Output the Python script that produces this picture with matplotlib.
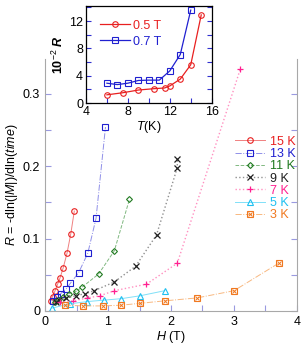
import numpy as np
import matplotlib
matplotlib.use('Agg')
import matplotlib.pyplot as plt
from matplotlib.ticker import MultipleLocator, FuncFormatter
from matplotlib.legend_handler import HandlerTuple

plt.rcParams['font.family'] = ['Liberation Sans', 'DejaVu Sans']
plt.rcParams['mathtext.fontset'] = 'custom'
plt.rcParams['mathtext.it'] = 'Liberation Sans:italic'
plt.rcParams['mathtext.rm'] = 'Liberation Sans'
plt.rcParams['mathtext.bf'] = 'Liberation Sans:italic:bold'

#### main panel data: R vs H (T) ####
H_15 = [0.09, 0.12, 0.16, 0.20, 0.24, 0.29, 0.35, 0.41, 0.465]
R_15 = [0.014, 0.020, 0.028, 0.037, 0.046, 0.060, 0.080, 0.107, 0.138]

H_13 = [0.12, 0.19, 0.25, 0.34, 0.40, 0.535, 0.68, 0.81, 0.96]
R_13 = [0.014, 0.019, 0.024, 0.031, 0.038, 0.053, 0.080, 0.128, 0.254]

H_11 = [0.16, 0.21, 0.28, 0.38, 0.49, 0.59, 0.85, 1.10, 1.34]
R_11 = [0.013, 0.015, 0.019, 0.024, 0.027, 0.033, 0.051, 0.083, 0.154]

H_9 = [0.17, 0.22, 0.34, 0.49, 0.64, 0.78, 1.10, 1.44, 1.77, 2.10, 2.10]
R_9 = [0.013, 0.015, 0.0175, 0.021, 0.024, 0.028, 0.040, 0.062, 0.105, 0.198, 0.210]

H_7 = [0.24, 0.45, 0.67, 0.87, 1.10, 1.61, 2.10, 3.10]
R_7 = [0.012, 0.014, 0.018, 0.021, 0.028, 0.037, 0.066, 0.334]

H_5 = [0.11, 0.40, 0.67, 0.94, 1.21, 1.51, 1.90]
R_5 = [0.004, 0.010, 0.013, 0.015, 0.017, 0.021, 0.028]

H_3 = [0.31, 0.61, 0.92, 1.21, 1.51, 1.90, 2.41, 3.00, 3.71]
R_3 = [0.008, 0.007, 0.007, 0.008, 0.0106, 0.014, 0.018, 0.028, 0.066]

#### inset data: 10^-2 R vs T (K) ####
T_05 = [6, 7.5, 9, 10.5, 11.5, 12, 13, 14, 15]
R_05 = [1.2, 1.5, 1.9, 2.1, 2.2, 2.5, 3.5, 5.6, 12.9]
T_07 = [6, 7, 8, 9, 10, 11, 12, 13, 14]
R_07 = [2.9, 2.7, 2.9, 3.3, 3.35, 3.35, 4.7, 7.1, 13.6]

fig = plt.figure(figsize=(3.07, 3.45), dpi=100)

ax = fig.add_axes([0.1466, 0.0986, 0.8208, 0.7304])

tick_col = '#9a9ae0'
spine_col = '#a8a8a8'

l15, = ax.plot(H_15, R_15, '-', color='#f08080', lw=0.7, marker='o', ms=4,
               mfc='none', mec='#e82020', mew=0.8)
l13, = ax.plot(H_13, R_13, '-.', color='#9090e8', lw=0.7, marker='s', ms=4.5,
               mfc='none', mec='#2020d0', mew=0.8)
l11, = ax.plot(H_11, R_11, '--', color='#80b880', lw=0.7, marker='D', ms=3,
               mfc='none', mec='#207a20', mew=0.8)
l9, = ax.plot(H_9, R_9, ':', color='#909090', lw=1.0, marker='x', ms=4,
              mec='#202020', mew=0.9)
l7, = ax.plot(H_7, R_7, ':', color='#ff90c0', lw=1.0, marker='+', ms=5,
              mec='#ff2090', mew=0.9)
l5, = ax.plot(H_5, R_5, '-', color='#80e0f8', lw=0.7, marker='^', ms=4,
              mfc='none', mec='#20c0f0', mew=0.8)
l3, = ax.plot(H_3, R_3, '-.', color='#f8b880', lw=0.7, marker='s', ms=4.5,
              mfc='none', mec='#f07820', mew=0.8)
l3x, = ax.plot(H_3, R_3, ls='none', marker='x', ms=3.2, mec='#f07820', mew=0.7)

ax.set_xlim(0, 4)
ax.set_ylim(0, 0.348)
ax.xaxis.set_major_locator(MultipleLocator(1))
ax.xaxis.set_minor_locator(MultipleLocator(0.5))
ax.yaxis.set_major_locator(MultipleLocator(0.1))
ax.yaxis.set_minor_locator(MultipleLocator(0.05))
ax.xaxis.set_major_formatter(FuncFormatter(lambda v, p: '%d' % v))
ax.yaxis.set_major_formatter(FuncFormatter(lambda v, p: '0' if v == 0 else '%.1f' % v))
ax.tick_params(which='both', direction='in', length=4, width=0.8,
               color=tick_col, labelsize=9, right=True, top=False)
ax.spines['top'].set_visible(False)
for s in ['left', 'right', 'bottom']:
    ax.spines[s].set_color(spine_col)
    ax.spines[s].set_linewidth(0.8)

ax.set_xlabel('$H$ (T)', fontsize=9, labelpad=1)
ax.set_ylabel('$R$ = -dln(|$M$|)/dln($time$)', fontsize=9, labelpad=2)

leg = ax.legend([l15, l13, l11, l9, l7, l5, (l3, l3x)],
                ['15 K', '13 K', '11 K', '9 K', '7 K', '5 K', '3 K'],
                handler_map={tuple: HandlerTuple(ndivide=1)},
                loc='upper right', bbox_to_anchor=(1.03, 0.73), frameon=False,
                fontsize=9, handlelength=2.4, handletextpad=0.4,
                labelspacing=0.02, borderpad=0.2,
                labelcolor=['#e82020', '#2020d0', '#207a20', '#202020',
                            '#ff2090', '#20c0f0', '#f07820'])

#### inset ####
ax2 = fig.add_axes([0.280, 0.7014, 0.4096, 0.2812])
ax2.plot(T_05, R_05, '-', color='#e82020', lw=0.9, marker='o', ms=4,
         mfc='none', mec='#e82020', mew=0.8, label='0.5 T')
ax2.plot(T_07, R_07, '-', color='#2020d0', lw=0.9, marker='s', ms=4,
         mfc='none', mec='#2020d0', mew=0.8, label='0.7 T')
ax2.set_xlim(4, 16)
ax2.set_ylim(0, 14.2)
ax2.xaxis.set_major_locator(MultipleLocator(4))
ax2.xaxis.set_minor_locator(MultipleLocator(2))
ax2.yaxis.set_major_locator(MultipleLocator(4))
ax2.yaxis.set_minor_locator(MultipleLocator(2))
ax2.tick_params(which='both', direction='in', length=3.5, width=0.8,
                color='#3030d0', labelsize=9, right=True, top=False, pad=2)
for s in ax2.spines.values():
    s.set_linewidth(0.9)
ax2.set_xlabel('$T$(K)', fontsize=9, labelpad=1)
ax2.set_ylabel('10$^{-2}$ $\\mathbf{R}$', fontsize=9, fontweight='bold', labelpad=2)
ax2.legend(loc='upper left', frameon=False, fontsize=9, handlelength=2.4,
           handletextpad=0.3, labelspacing=0.3, borderpad=0.6,
           labelcolor=['#e82020', '#2020d0'])

fig.savefig('out.png', dpi=100)
